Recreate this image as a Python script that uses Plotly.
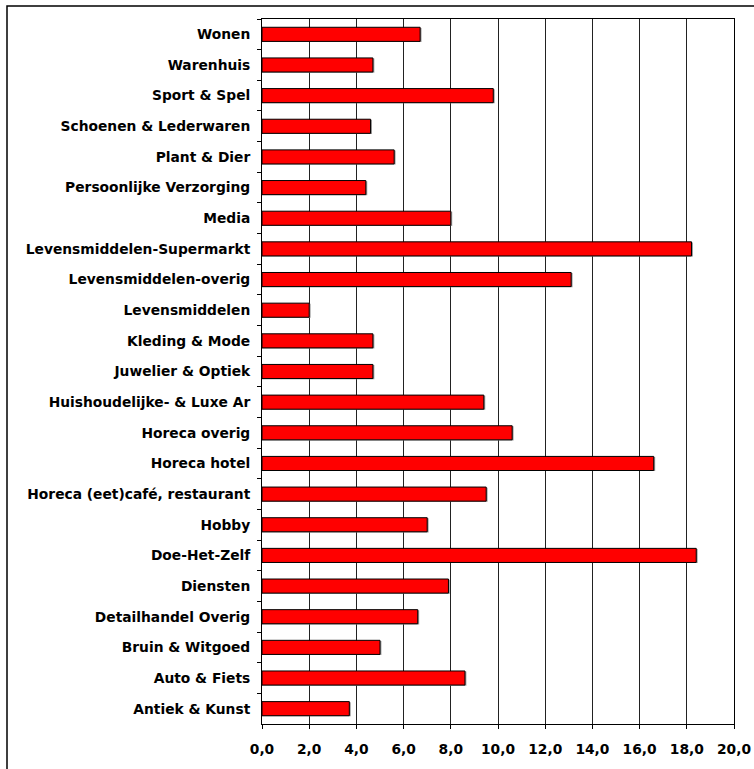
import plotly.graph_objects as go

categories = [
    "Wonen", "Warenhuis", "Sport & Spel", "Schoenen & Lederwaren", "Plant & Dier",
    "Persoonlijke Verzorging", "Media", "Levensmiddelen-Supermarkt",
    "Levensmiddelen-overig", "Levensmiddelen", "Kleding & Mode", "Juwelier & Optiek",
    "Huishoudelijke- & Luxe Ar", "Horeca overig", "Horeca hotel",
    "Horeca (eet)café, restaurant", "Hobby", "Doe-Het-Zelf", "Diensten",
    "Detailhandel Overig", "Bruin & Witgoed", "Auto & Fiets", "Antiek & Kunst",
]
values = [6.7, 4.7, 9.8, 4.6, 5.6, 4.4, 8.0, 18.2, 13.1, 2.0, 4.7, 4.7,
          9.4, 10.6, 16.6, 9.5, 7.0, 18.4, 7.9, 6.6, 5.0, 8.6, 3.7]
x_ticks = [0, 2, 4, 6, 8, 10, 12, 14, 16, 18, 20]

W, H = 754, 769
L, R, T, B = 262, 20, 19, 45
pw, ph = W - L - R, H - T - B

lab_font = dict(family="DejaVu Sans", size=13.8, color="black", weight="bold")

fig = go.Figure()
# shadow
fig.add_trace(go.Bar(
    y=categories, x=[v + 0.06 for v in values], orientation="h",
    marker=dict(color="#9a9a9a", line=dict(width=0)),
    width=0.46, offset=-0.21, hoverinfo="skip", showlegend=False,
))
fig.add_trace(go.Bar(
    y=categories, x=values, orientation="h",
    marker=dict(color="#ff0000", line=dict(color="black", width=1)),
    width=0.46, offset=-0.23, showlegend=False,
))

fig.update_layout(
    width=W, height=H,
    margin=dict(l=L, r=R, t=T, b=B, pad=0, autoexpand=False),
    paper_bgcolor="white", plot_bgcolor="white",
    barmode="overlay",
    separators=",.",
    font=dict(family="DejaVu Sans", size=12, color="black"),
    shapes=[dict(type="rect", xref="paper", yref="paper",
                 x0=(7 - L) / pw, x1=(W + 10 - L) / pw,
                 y0=(H - B - (H + 10)) / ph, y1=(H - B - 6) / ph,
                 line=dict(color="black", width=1.5), fillcolor="rgba(0,0,0,0)",
                 layer="below")],
)
fig.update_xaxes(
    range=[0, 20], tickvals=x_ticks, tickformat=".1f",
    showgrid=True, gridcolor="#222", gridwidth=1,
    showline=True, linecolor="black", linewidth=1, mirror=True,
    ticks="outside", ticklen=4, tickcolor="black",
    ticklabelstandoff=8, automargin=False,
    tickfont=lab_font,
    zeroline=False, fixedrange=True,
)
fig.update_yaxes(
    categoryorder="array", categoryarray=categories, autorange="reversed",
    showgrid=False,
    showline=True, linecolor="black", linewidth=1, mirror=True,
    ticks="outside", ticklen=4, tickcolor="black", tickson="boundaries",
    ticklabelstandoff=8, automargin=False,
    tickfont=lab_font,
    fixedrange=True,
)

fig.write_html("out.html")
